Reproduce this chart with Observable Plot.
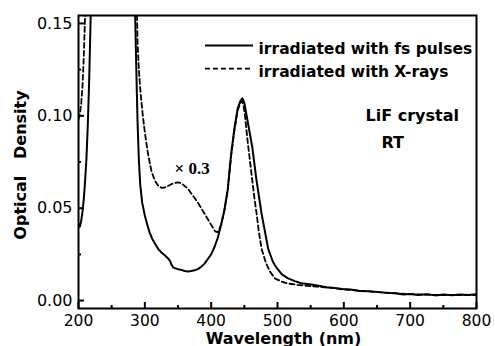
<!DOCTYPE html>
<html><head><meta charset="utf-8">
<script src="https://cdn.jsdelivr.net/npm/d3@7"></script>
<script src="https://cdn.jsdelivr.net/npm/@observablehq/plot@0.6"></script>
<style>
html,body{margin:0;padding:0;background:#fff;}
svg{font-family:"DejaVu Sans",sans-serif;}
</style></head><body><div id="chart"></div>
<script>
// fs-pulse irradiated spectrum (solid)
const fsWavelength = [200,202,204,206,208,210,212,214,216,218,220,284,285,286,287,288,289,291,293,296,300,303,307,311,315,320,325,330,335,338,340,343,350,355,360,365,370,375,380,385,390,395,400,405,410,415,420,425,430,435,440,444,447,450,453,457,462,468,476,486,493,499,507,516,526,536,548,560,573,586,598,610,624,637,650,663,677,690,700,712,725,738,750,763,775,788,800];
const fsDensity = [0.042,0.040,0.043,0.048,0.055,0.065,0.077,0.095,0.118,0.148,0.18,0.18,0.16,0.145,0.128,0.112,0.097,0.076,0.063,0.053,0.046,0.042,0.037,0.0335,0.031,0.028,0.026,0.0245,0.0228,0.0215,0.0195,0.0178,0.017,0.0166,0.016,0.0157,0.016,0.0164,0.017,0.0183,0.020,0.0225,0.025,0.029,0.034,0.041,0.049,0.060,0.079,0.093,0.104,0.108,0.1095,0.107,0.101,0.093,0.083,0.066,0.047,0.028,0.021,0.0175,0.014,0.012,0.0105,0.0094,0.0088,0.0082,0.0072,0.0068,0.0063,0.006,0.0052,0.005,0.0047,0.0042,0.004,0.0033,0.0036,0.003,0.0034,0.0028,0.0033,0.0029,0.0033,0.003,0.0034];
// X-ray irradiated spectrum (dashed)
const xrWavelength = [200,202,204,206,208,210,212,286,288,289,291,293,295,297,299,302,305,310,315,320,325,330,335,340,345,350,355,360,365,370,375,380,385,390,395,400,406,410,415,420,425,430,435,440,444,447,449,451,453,456,459,462,465,468.5,472,476,482,488,496,506,516,530,545,560,580,600,625,650,675,700,725,750,775,800];
const xrDensity = [0.098,0.101,0.106,0.116,0.132,0.155,0.18,0.18,0.158,0.14,0.125,0.115,0.107,0.100,0.094,0.086,0.079,0.070,0.065,0.0622,0.061,0.0612,0.062,0.063,0.0637,0.064,0.0635,0.062,0.0605,0.058,0.0555,0.053,0.050,0.047,0.044,0.041,0.0375,0.037,0.041,0.049,0.060,0.078,0.092,0.103,0.107,0.108,0.105,0.100,0.093,0.083,0.074,0.065,0.056,0.047,0.037,0.028,0.021,0.016,0.012,0.0103,0.0092,0.0085,0.008,0.0075,0.007,0.006,0.0053,0.0046,0.004,0.0035,0.0032,0.003,0.003,0.003];

const xMajorTicks = [200,300,400,500,600,700,800];
const xMinorTicks = [250,350,450,550,650,750];
const yMajorTicks = [0,0.05,0.10,0.15];
const yTickLabels = ["0.00","0.05","0.10","0.15"];
const yMinorTicks = [0.025,0.075,0.125];
const seriesNames = ["irradiated with fs pulses","irradiated with X-rays"];
const xTitle = "Wavelength (nm)";
const yTitle = "Optical\u00a0\u00a0\u00a0Density";
const sampleLabels = ["LiF crystal","RT"];
const scaleNote = "\u00d7 0.3";

const fs = fsWavelength.map((w,i)=>({w, d: fsDensity[i]}));
const xr = xrWavelength.map((w,i)=>({w, d: xrDensity[i]}));

const legendY = [0.138,0.1255];
const legendRows = seriesNames.map((name,i)=>({name, y: legendY[i]}));

const chart = Plot.plot({
  width: 495,
  height: 346,
  marginLeft: 78,
  marginRight: 19,
  marginTop: 15,
  marginBottom: 38,
  x: {domain: [200,800]},
  y: {domain: [-0.0043,0.1543]},
  marks: [
    Plot.line(fs, {x: "w", y: "d", stroke: "#000", strokeWidth: 2, clip: true}),
    Plot.line(xr, {x: "w", y: "d", stroke: "#000", strokeWidth: 1.8, strokeDasharray: "5,3", clip: true}),
    Plot.frame({stroke: "#000", strokeWidth: 2}),
    Plot.axisX({ticks: xMajorTicks, tickSize: -6, tickPadding: 12, strokeWidth: 2, fontSize: 15.5, label: null, tickFormat: d => String(d)}),
    Plot.axisX({ticks: xMinorTicks, tickSize: -3, strokeWidth: 2, label: null, tickFormat: () => ""}),
    Plot.axisY({ticks: yMajorTicks, tickSize: -6, tickPadding: 12, strokeWidth: 2, fontSize: 16, label: null, tickFormat: d => yTickLabels[yMajorTicks.indexOf(d)]}),
    Plot.axisY({ticks: yMinorTicks, tickSize: -3, strokeWidth: 2, label: null, tickFormat: () => ""}),
    Plot.text([xTitle], {frameAnchor: "bottom", dx: 6, dy: 35, fontSize: 16, fontWeight: "bold"}),
    Plot.text([yTitle], {frameAnchor: "left", textAnchor: "middle", rotate: -90, dx: -58, dy: 3, fontSize: 16, fontWeight: "bold"}),
    Plot.ruleY([legendRows[0]], {y: "y", x1: 391.5, x2: 463.8, stroke: "#000", strokeWidth: 2}),
    Plot.ruleY([legendRows[1]], {y: "y", x1: 391.5, x2: 463.8, stroke: "#000", strokeWidth: 1.8, strokeDasharray: "5,3"}),
    Plot.text(legendRows, {x: 471.4, y: "y", text: "name", textAnchor: "start", dy: 3, fontSize: 15.5, fontWeight: "bold"}),
    Plot.text([sampleLabels[0]], {x: 632.7, y: 0.100, textAnchor: "start", fontSize: 16, fontWeight: "bold"}),
    Plot.text([sampleLabels[1]], {x: 656.8, y: 0.0853, textAnchor: "start", fontSize: 16, fontWeight: "bold"}),
    Plot.text([scaleNote], {x: 344.7, y: 0.0712, textAnchor: "start", fontSize: 17, fontWeight: "bold", fontFamily: "Liberation Serif"})
  ]
});
document.getElementById("chart").appendChild(chart);
</script></body></html>
